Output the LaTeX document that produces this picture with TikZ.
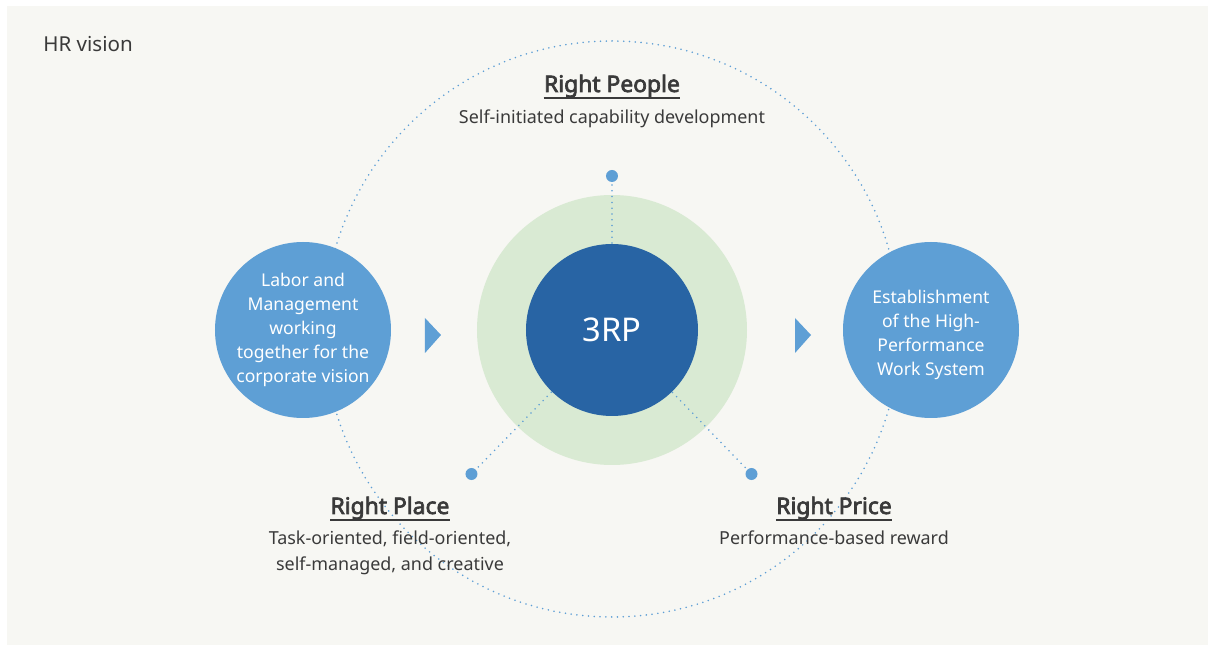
\documentclass[tikz,border=0pt]{standalone}
\usepackage{fontspec}
\setmainfont{Noto Sans}[AutoFakeBold=3]
\usetikzlibrary{positioning}

\definecolor{panel}{RGB}{247,247,243}
\definecolor{skyblue}{RGB}{94,159,213}
\definecolor{deepblue}{RGB}{40,100,164}
\definecolor{paleGreen}{RGB}{217,234,211}
\definecolor{ink}{RGB}{58,58,58}

\tikzset{
    orbit/.style={draw=skyblue, line width=1pt, line cap=round, dash pattern=on 0pt off 3.3pt},
    spoke/.style={orbit},
    hubdot/.style={circle, fill=skyblue, inner sep=0pt, minimum size=0.24cm},
    goal/.style={circle, fill=skyblue, minimum size=3.52cm, inner sep=0pt, text=white, align=center,
        font=\fontsize{10}{13.7}\selectfont},
    heading/.style={anchor=base, inner sep=0pt, text=ink, font=\bfseries\fontsize{13}{15}\selectfont},
    caption/.style={anchor=base, inner sep=0pt, text=ink, align=center,
        font=\fontsize{10.2}{15.2}\selectfont},
}

\begin{document}
\begin{tikzpicture}
    \useasboundingbox (-12.24,6.6) rectangle (12.06,-6.42);
    \fill[panel] (-12.1,6.48) rectangle (11.92,-6.3);
    \node[anchor=base west, inner sep=0pt, text=ink, font=\fontsize{11.7}{14}\selectfont] (title) at (-11.38,5.56) {HR vision};

    % outer orbit and the 3RP core
    \coordinate (c) at (0,0);
    \draw[orbit] (0,0.02) circle (5.76);
    \node[circle, fill=paleGreen, minimum size=5.4cm, inner sep=0pt] (ring) at (c) {};
    \foreach \n/\x/\y in {people/0/3.08, place/-2.81/-2.88, price/2.79/-2.88} {
            \node[hubdot] (\n) at (\x,\y) {};
            \draw[spoke] (c) -- (\n);
        }
    \node[circle, fill=deepblue, minimum size=3.44cm, inner sep=0pt, text=white,
        font=\fontsize{18.6}{20}\selectfont] (core) at (c) {3RP};

    % left and right circles
    \node[goal] (labor) at (-6.18,0) {Labor and\\Management\\working\\together for the\\corporate vision};
    \node[goal] (hpws) at (6.38,0) {};
    \node[text=white, align=center, font=\fontsize{10}{13.7}\selectfont] (hpwsText) at ([yshift=-0.1cm]hpws.center)
        {Establishment\\of the High-\\Performance\\Work System};
    \fill[skyblue] (-3.74,0.24) -- (-3.42,-0.1) -- (-3.74,-0.46) -- cycle;
    \fill[skyblue] (3.66,0.24) -- (3.98,-0.1) -- (3.66,-0.46) -- cycle;

    % the three Rs
    \node[heading] (peopleT) at (0,4.76) {Right People};
    \node[caption] (peopleC) at (0,4.12) {Self-initiated capability development};
    \node[heading] (placeT) at (-4.44,-3.68) {Right Place};
    \node[caption, anchor=north] (placeC) at (-4.44,-4.0) {Task-oriented, field-oriented,\\self-managed, and creative};
    \node[heading] (priceT) at (4.44,-3.68) {Right Price};
    \node[caption] (priceC) at (4.44,-4.28) {Performance-based reward};
    \foreach \t in {peopleT, placeT, priceT} {
            \draw[ink, line width=1pt] (\t.south west) -- (\t.south east);
        }
\end{tikzpicture}
\end{document}
